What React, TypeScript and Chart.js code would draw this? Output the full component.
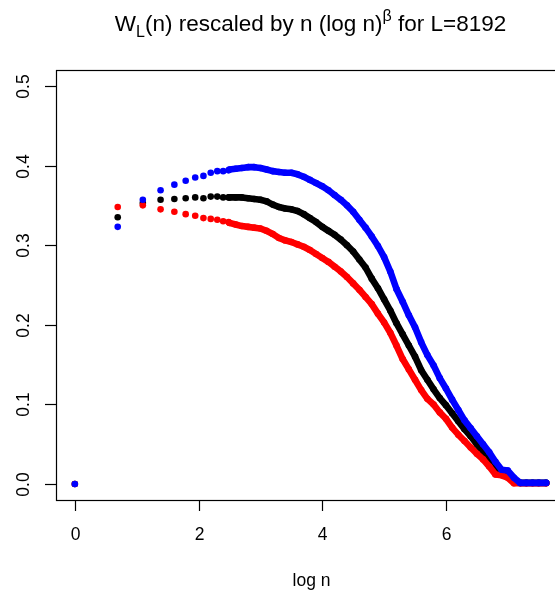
import React, { useEffect, useRef } from "react";
import { Chart, registerables } from "chart.js";

Chart.register(...registerables);

// log n for the first, clearly separated points (n = 1..12)
const sparseLogN = [0, 0.693, 1.099, 1.386, 1.609, 1.792, 1.946, 2.079, 2.197, 2.303, 2.398, 2.485];
const blueSparse = [0, 0.323, 0.357, 0.369, 0.376, 0.381, 0.385, 0.387, 0.391, 0.393, 0.393, 0.394];
const blackSparse = [0, 0.335, 0.353, 0.357, 0.358, 0.359, 0.36, 0.359, 0.361, 0.361, 0.36, 0.36];
const redSparse = [0, 0.348, 0.35, 0.345, 0.342, 0.339, 0.337, 0.334, 0.333, 0.332, 0.33, 0.329];

// dense part, read at these log n positions
const denseLogN = [
  2.5, 2.6, 2.7, 2.8, 2.9, 3.0, 3.1, 3.2, 3.3, 3.4, 3.5, 3.6, 3.7, 3.8, 3.9, 4.0,
  4.1, 4.2, 4.3, 4.4, 4.5, 4.6, 4.7, 4.8, 4.9, 5.0, 5.1, 5.2, 5.3, 5.4, 5.5, 5.6,
  5.7, 5.8, 5.9, 6.0, 6.1, 6.2, 6.3, 6.4, 6.5, 6.6, 6.7, 6.8, 6.9, 7.0, 7.1, 7.2,
  7.3, 7.4, 7.5, 7.62,
];
const blueDense = [
  0.395, 0.396, 0.397, 0.398, 0.398, 0.397, 0.395, 0.393, 0.392, 0.391, 0.391, 0.389, 0.386, 0.382, 0.378, 0.374,
  0.369, 0.363, 0.357, 0.35, 0.342, 0.332, 0.322, 0.311, 0.299, 0.285, 0.267, 0.245, 0.229, 0.212, 0.197, 0.178,
  0.162, 0.149, 0.133, 0.12, 0.106, 0.093, 0.08, 0.07, 0.06, 0.05, 0.04, 0.028, 0.018, 0.017, 0.008, 0.0015,
  0.0015, 0.0015, 0.0015, 0.0015,
];
const blackDense = [
  0.36, 0.36, 0.36, 0.359, 0.358, 0.357, 0.355, 0.351, 0.348, 0.346, 0.345, 0.343, 0.339, 0.334, 0.329, 0.323,
  0.318, 0.313, 0.307, 0.3, 0.292, 0.282, 0.272, 0.258, 0.246, 0.232, 0.218, 0.202, 0.188, 0.174, 0.16, 0.143,
  0.131, 0.119, 0.108, 0.099, 0.089, 0.079, 0.069, 0.06, 0.05, 0.04, 0.03, 0.018, 0.015, 0.012, 0.004, 0.0015,
  0.0015, 0.0015, 0.0015, 0.0015,
];
const redDense = [
  0.328, 0.326, 0.324, 0.323, 0.322, 0.321, 0.318, 0.314, 0.309, 0.306, 0.304, 0.301, 0.298, 0.294, 0.289, 0.284,
  0.279, 0.273, 0.267, 0.26, 0.252, 0.244, 0.235, 0.226, 0.214, 0.203, 0.19, 0.174, 0.157, 0.144, 0.131, 0.118,
  0.107, 0.1, 0.09, 0.082, 0.071, 0.062, 0.054, 0.046, 0.038, 0.031, 0.022, 0.012, 0.011, 0.008, 0.001, 0.001,
  0.001, 0.001, 0.001, 0.001,
];

const xTicks = [0, 2, 4, 6];
const xTickLabels = ["0", "2", "4", "6"];
const yTicks = [0, 0.1, 0.2, 0.3, 0.4, 0.5];
const yTickLabels = ["0.0", "0.1", "0.2", "0.3", "0.4", "0.5"];

const FONT = '"Liberation Sans", Arial, Helvetica, sans-serif';
const AXIS_PX = 17.5;
const TITLE_PX = 22.5;

const pts = (xs: number[], ys: number[]) => xs.map((x, i) => ({ x, y: ys[i] }));

const rAxesPlugin = {
  id: "rAxes",
  afterDraw(chart: any) {
    const { ctx, chartArea } = chart;
    const xs = chart.scales.x;
    const ys = chart.scales.y;
    const { left, right, top, bottom } = chartArea;
    ctx.save();
    ctx.strokeStyle = "#000";
    ctx.fillStyle = "#000";
    ctx.lineWidth = 1.2;
    ctx.strokeRect(left + 0.5, top + 0.5, right - left, bottom - top);

    // x ticks
    ctx.font = `${AXIS_PX}px ${FONT}`;
    ctx.textAlign = "center";
    ctx.textBaseline = "alphabetic";
    xTicks.forEach((v, i) => {
      const px = Math.round(xs.getPixelForValue(v)) + 0.5;
      ctx.beginPath();
      ctx.moveTo(px, bottom);
      ctx.lineTo(px, bottom + 11);
      ctx.stroke();
      ctx.fillText(xTickLabels[i], px, bottom + 40);
    });
    // y ticks
    yTicks.forEach((v, i) => {
      const py = Math.round(ys.getPixelForValue(v)) + 0.5;
      ctx.beginPath();
      ctx.moveTo(left - 11, py);
      ctx.lineTo(left, py);
      ctx.stroke();
      ctx.save();
      ctx.translate(left - 27, py);
      ctx.rotate(-Math.PI / 2);
      ctx.fillText(yTickLabels[i], 0, 0);
      ctx.restore();
    });
    // x axis title
    const cx = (left + right) / 2;
    ctx.fillText("log n", cx + 1, bottom + 86);

    // main title with sub/superscripts
    const parts = [
      { t: "W", k: 0 },
      { t: "L", k: 1 },
      { t: "(n) rescaled by n (log n)", k: 0 },
      { t: "β", k: 2 },
      { t: " for L=8192", k: 0 },
    ];
    const small = Math.round(TITLE_PX * 0.7);
    const fontFor = (k: number) => `${k === 0 ? TITLE_PX : small}px ${FONT}`;
    let total = 0;
    parts.forEach((p) => {
      ctx.font = fontFor(p.k);
      total += ctx.measureText(p.t).width;
    });
    let x = cx - total / 2;
    const base = 31;
    ctx.textAlign = "left";
    parts.forEach((p) => {
      ctx.font = fontFor(p.k);
      const dy = p.k === 1 ? TITLE_PX * 0.28 : p.k === 2 ? -TITLE_PX * 0.45 : 0;
      ctx.fillText(p.t, x, base + dy);
      x += ctx.measureText(p.t).width;
    });
    ctx.restore();
  },
};

export default function App() {
  const ref = useRef<HTMLCanvasElement | null>(null);
  useEffect(() => {
    if (!ref.current) return;
    const R = 3.3;
    const mk = (label: string, color: string, xs: number[], ys: number[], line: boolean) => ({
      label,
      data: pts(xs, ys),
      showLine: line,
      borderColor: color,
      backgroundColor: color,
      borderWidth: line ? 6.6 : 0,
      borderCapStyle: "round",
      borderJoinStyle: "round",
      pointRadius: R,
      pointHoverRadius: R,
      pointBorderWidth: 0,
      pointBackgroundColor: color,
    });
    const chart = new Chart(ref.current, {
      type: "scatter",
      data: {
        datasets: [
          mk("blue dense", "#0000ff", denseLogN, blueDense, true),
          mk("blue", "#0000ff", sparseLogN, blueSparse, false),
          mk("red dense", "#ff0000", denseLogN, redDense, true),
          mk("red", "#ff0000", sparseLogN, redSparse, false),
          mk("black dense", "#000000", denseLogN, blackDense, true),
          mk("black", "#000000", sparseLogN, blackSparse, false),
        ] as any,
      },
      options: {
        animation: false,
        responsive: false,
        maintainAspectRatio: false,
        devicePixelRatio: 1,
        layout: { padding: { left: 56, top: 70, right: 15, bottom: 94 } },
        plugins: { legend: { display: false }, tooltip: { enabled: false }, title: { display: false } },
        events: [],
        scales: {
          x: { type: "linear", min: -0.3048, max: 7.9248, display: false },
          y: { type: "linear", min: -0.02, max: 0.52, display: false },
        },
      },
      plugins: [rAxesPlugin],
    });
    return () => chart.destroy();
  }, []);
  return (
    <div style={{ position: "fixed", left: 0, top: 0, width: 555, height: 594, overflow: "hidden", background: "#fff" }}>
      <canvas ref={ref} width={580} height={594} style={{ display: "block", width: 580, height: 594 }} />
    </div>
  );
}
